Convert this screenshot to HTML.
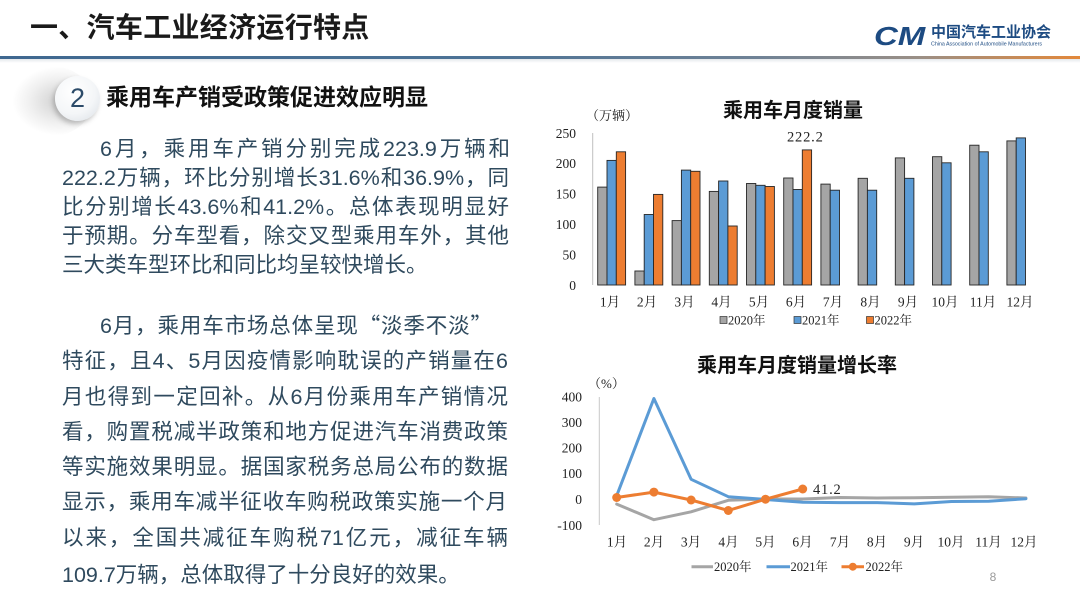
<!DOCTYPE html>
<html><head><meta charset="utf-8">
<style>
*{margin:0;padding:0;box-sizing:border-box}
body{width:1080px;height:604px;overflow:hidden;background:#fff;position:relative;font-family:"Liberation Sans","Noto Sans CJK SC",sans-serif}
.abs{position:absolute;white-space:nowrap}
.title{left:30px;top:8px;font-size:28px;font-weight:bold;color:#1a1a1a;line-height:40px;letter-spacing:0.3px}
.hline{position:absolute;left:0;top:56px;width:1080px;height:3px;background:linear-gradient(to right,#3f6890 0%,#4d7396 45%,#6f8296 70%,#9a8f86 85%,#e3883a 100%)}
.hline2{position:absolute;left:0;top:59px;width:1080px;height:4px;background:linear-gradient(to bottom,rgba(180,190,200,0.35),rgba(255,255,255,0))}
.shadow{position:absolute;left:12px;top:66px;width:80px;height:70px;border-radius:50%;background:radial-gradient(ellipse at 60% 50%,rgba(150,150,150,0.45) 0%,rgba(180,180,180,0.2) 45%,rgba(255,255,255,0) 70%)}
.badge{position:absolute;left:55px;top:76px;width:45px;height:45px;border-radius:50%;background:radial-gradient(circle at 40% 35%,#ffffff 0%,#f4f6f8 55%,#d9dee4 100%);box-shadow:-2px 3px 5px rgba(120,120,120,0.45);text-align:center;line-height:45px;font-size:27px;color:#2c4b69}
.head{left:106px;top:83px;font-size:23px;font-weight:bold;color:#111;line-height:28px}
.ln{position:absolute;font-size:21.5px;color:#2f4a5e;line-height:30px;white-space:nowrap}
.j{text-align:justify;text-align-last:justify;white-space:normal}
.q{font-family:"Noto Sans CJK SC",sans-serif}
</style></head>
<body>
<div class="abs title">一、汽车工业经济运行特点</div>
<div class="hline"></div>
<div class="hline2"></div>

<div class="shadow"></div>
<div class="badge">2</div>
<div class="abs head">乘用车产销受政策促进效应明显</div>

<div class="ln j" style="left:100px;top:134px;width:410px">6月，乘用车产销分别完成223.9万辆和</div>
<div class="ln j" style="left:62px;top:163px;width:447px">222.2万辆，环比分别增长31.6%和36.9%，同</div>
<div class="ln j" style="left:62px;top:192px;width:447px">比分别增长43.6%和41.2%。总体表现明显好</div>
<div class="ln j" style="left:62px;top:221px;width:447px">于预期。分车型看，除交叉型乘用车外，其他</div>
<div class="ln" style="left:62px;top:250px">三大类车型环比和同比均呈较快增长。</div>

<div class="ln j" style="left:100px;top:310px;width:392px">6月，乘用车市场总体呈现<span class="q">“</span>淡季不淡<span class="q">”</span></div>
<div class="ln j" style="left:62px;top:346px;width:446px">特征，且4、5月因疫情影响耽误的产销量在6</div>
<div class="ln j" style="left:62px;top:382px;width:446px">月也得到一定回补。从6月份乘用车产销情况</div>
<div class="ln j" style="left:62px;top:417px;width:446px">看，购置税减半政策和地方促进汽车消费政策</div>
<div class="ln j" style="left:62px;top:452px;width:446px">等实施效果明显。据国家税务总局公布的数据</div>
<div class="ln j" style="left:62px;top:487px;width:445px">显示，乘用车减半征收车购税政策实施一个月</div>
<div class="ln j" style="left:62px;top:523px;width:446px">以来，全国共减征车购税71亿元，减征车辆</div>
<div class="ln" style="left:62px;top:560px">109.7万辆，总体取得了十分良好的效果。</div>

<svg class="abs" style="left:0;top:0" width="1080" height="604" viewBox="0 0 1080 604">
<!-- logo -->
<text x="874" y="45" font-family="Liberation Sans, sans-serif" font-size="30" font-weight="bold" font-style="italic" fill="#1d4b82" transform="translate(874 45) scale(1.1 0.85) translate(-874 -45)">CM</text>
<text x="931" y="37" font-family="Liberation Sans, Noto Sans CJK SC, sans-serif" font-size="15" font-weight="bold" fill="#1d4b82">中国汽车工业协会</text>
<text x="931" y="45.5" font-family="Liberation Sans, sans-serif" font-size="5.3" fill="#1d4b82">China Association of Automobile Manufacturers</text>

<g font-family="Liberation Serif, Noto Serif CJK SC, serif" fill="#222">
<!-- Bar chart -->
<text x="793" y="117" text-anchor="middle" font-family="Liberation Sans, Noto Sans CJK SC, sans-serif" font-size="20" font-weight="bold" fill="#111">乘用车月度销量</text>
<text x="586" y="120" font-size="13">（万辆）</text>
<g font-size="13.5" text-anchor="end">
<text x="576" y="138">250</text>
<text x="576" y="168">200</text>
<text x="576" y="198.5">150</text>
<text x="576" y="229">100</text>
<text x="576" y="259.5">50</text>
<text x="576" y="290">0</text>
</g>
<line x1="592.7" y1="133" x2="592.7" y2="285" stroke="#bfbfbf" stroke-width="1"/>
<g stroke="#262626" stroke-width="0.9">
<g fill="#a5a5a5">
<rect x="597.7" y="187.1" width="9.3" height="97.9"/>
<rect x="634.9" y="271.0" width="9.3" height="14.0"/>
<rect x="672.1" y="220.6" width="9.3" height="64.4"/>
<rect x="709.3" y="191.4" width="9.3" height="93.6"/>
<rect x="746.5" y="183.5" width="9.3" height="101.5"/>
<rect x="783.7" y="178.0" width="9.3" height="107.0"/>
<rect x="820.9" y="184.1" width="9.3" height="100.9"/>
<rect x="858.1" y="178.3" width="9.3" height="106.7"/>
<rect x="895.3" y="157.9" width="9.3" height="127.1"/>
<rect x="932.5" y="156.7" width="9.3" height="128.3"/>
<rect x="969.7" y="145.2" width="9.3" height="139.8"/>
<rect x="1006.9" y="140.9" width="9.3" height="144.1"/>
</g>
<g fill="#5b9bd5">
<rect x="607.0" y="160.4" width="9.3" height="124.6"/>
<rect x="644.2" y="214.5" width="9.3" height="70.5"/>
<rect x="681.4" y="170.1" width="9.3" height="114.9"/>
<rect x="718.6" y="181.0" width="9.3" height="104.0"/>
<rect x="755.8" y="185.3" width="9.3" height="99.7"/>
<rect x="793.0" y="189.5" width="9.3" height="95.5"/>
<rect x="830.2" y="190.2" width="9.3" height="94.8"/>
<rect x="867.4" y="190.2" width="9.3" height="94.8"/>
<rect x="904.6" y="178.3" width="9.3" height="106.7"/>
<rect x="941.8" y="162.8" width="9.3" height="122.2"/>
<rect x="979.0" y="151.8" width="9.3" height="133.2"/>
<rect x="1016.2" y="137.9" width="9.3" height="147.1"/>
</g>
<g fill="#ed7d31">
<rect x="616.3" y="151.8" width="9.3" height="133.2"/>
<rect x="653.5" y="194.4" width="9.3" height="90.6"/>
<rect x="690.7" y="171.3" width="9.3" height="113.7"/>
<rect x="727.9" y="226.0" width="9.3" height="59.0"/>
<rect x="765.1" y="186.5" width="9.3" height="98.5"/>
<rect x="802.3" y="149.9" width="9.3" height="135.1"/>
</g>
</g>
<text x="787" y="141.5" font-size="14.5" letter-spacing="0.8">222.2</text>
<g font-size="13.5" text-anchor="middle">
<text x="610" y="306.5">1月</text>
<text x="647" y="306.5">2月</text>
<text x="684.5" y="306.5">3月</text>
<text x="721.5" y="306.5">4月</text>
<text x="759" y="306.5">5月</text>
<text x="796" y="306.5">6月</text>
<text x="833" y="306.5">7月</text>
<text x="870.5" y="306.5">8月</text>
<text x="908" y="306.5">9月</text>
<text x="945" y="306.5">10月</text>
<text x="983" y="306.5">11月</text>
<text x="1020" y="306.5">12月</text>
</g>
<g font-size="12.5">
<rect x="720" y="316.5" width="7" height="7" fill="#a5a5a5" stroke="#333" stroke-width="0.7"/>
<text x="728" y="324.5">2020年</text>
<rect x="794" y="316.5" width="7" height="7" fill="#5b9bd5" stroke="#333" stroke-width="0.7"/>
<text x="802" y="324.5">2021年</text>
<rect x="866.5" y="316.5" width="7" height="7" fill="#ed7d31" stroke="#333" stroke-width="0.7"/>
<text x="874.5" y="324.5">2022年</text>
</g>

<!-- Line chart -->
<text x="797" y="372" text-anchor="middle" font-family="Liberation Sans, Noto Sans CJK SC, sans-serif" font-size="20" font-weight="bold" fill="#111">乘用车月度销量增长率</text>
<text x="588" y="388" font-size="13">（%）</text>
<g font-size="13.5" text-anchor="end">
<text x="582" y="401.5">400</text>
<text x="582" y="427">300</text>
<text x="582" y="452.5">200</text>
<text x="582" y="478">100</text>
<text x="582" y="504">0</text>
<text x="582" y="530">-100</text>
</g>
<line x1="599.3" y1="397" x2="599.3" y2="525" stroke="#c8c8c8" stroke-width="1"/>
<g fill="none" stroke-width="3" stroke-linejoin="round" stroke-linecap="round">
<polyline stroke="#a5a5a5" points="616.7,504.1 653.9,519.7 691.1,511.8 728.3,500.3 765.5,499.0 802.7,499.0 839.9,497.5 877.1,498.0 914.3,497.7 951.5,497.2 988.7,496.7 1025.9,498.0"/>
<polyline stroke="#5b9bd5" points="616.7,495.7 653.9,398.5 691.1,479.3 728.3,496.7 765.5,499.5 802.7,502.3 839.9,502.6 877.1,502.6 914.3,503.9 951.5,501.5 988.7,501.3 1025.9,498.7"/>
<polyline stroke="#ed7d31" points="616.7,497.5 653.9,492.1 691.1,500.0 728.3,510.5 765.5,499.2 802.7,489.0"/>
</g>
<g fill="#ed7d31">
<circle cx="616.7" cy="497.5" r="4.5"/>
<circle cx="653.9" cy="492.1" r="4.5"/>
<circle cx="691.1" cy="500.0" r="4.5"/>
<circle cx="728.3" cy="510.5" r="4.5"/>
<circle cx="765.5" cy="499.2" r="4.5"/>
<circle cx="802.7" cy="489.0" r="4.5"/>
</g>
<text x="813" y="494" font-size="14.5" letter-spacing="0.8">41.2</text>
<g font-size="13.5" text-anchor="middle">
<text x="617" y="546.5">1月</text>
<text x="654" y="546.5">2月</text>
<text x="691" y="546.5">3月</text>
<text x="728.5" y="546.5">4月</text>
<text x="765.5" y="546.5">5月</text>
<text x="802.5" y="546.5">6月</text>
<text x="840" y="546.5">7月</text>
<text x="877" y="546.5">8月</text>
<text x="914" y="546.5">9月</text>
<text x="951" y="546.5">10月</text>
<text x="988.5" y="546.5">11月</text>
<text x="1024" y="546.5">12月</text>
</g>
<g font-size="12.5">
<line x1="691.5" y1="566.7" x2="713" y2="566.7" stroke="#a5a5a5" stroke-width="3"/>
<text x="714" y="571">2020年</text>
<line x1="766.5" y1="566.7" x2="790" y2="566.7" stroke="#5b9bd5" stroke-width="3"/>
<text x="790.5" y="571">2021年</text>
<line x1="841.5" y1="566.7" x2="864" y2="566.7" stroke="#ed7d31" stroke-width="3"/>
<circle cx="852.8" cy="566.7" r="4" fill="#ed7d31"/>
<text x="865.5" y="571">2022年</text>
</g>
</g>
<text x="993" y="581" font-family="Liberation Sans, sans-serif" font-size="12" fill="#9a9a9a" text-anchor="middle">8</text>
</svg>
</body></html>
